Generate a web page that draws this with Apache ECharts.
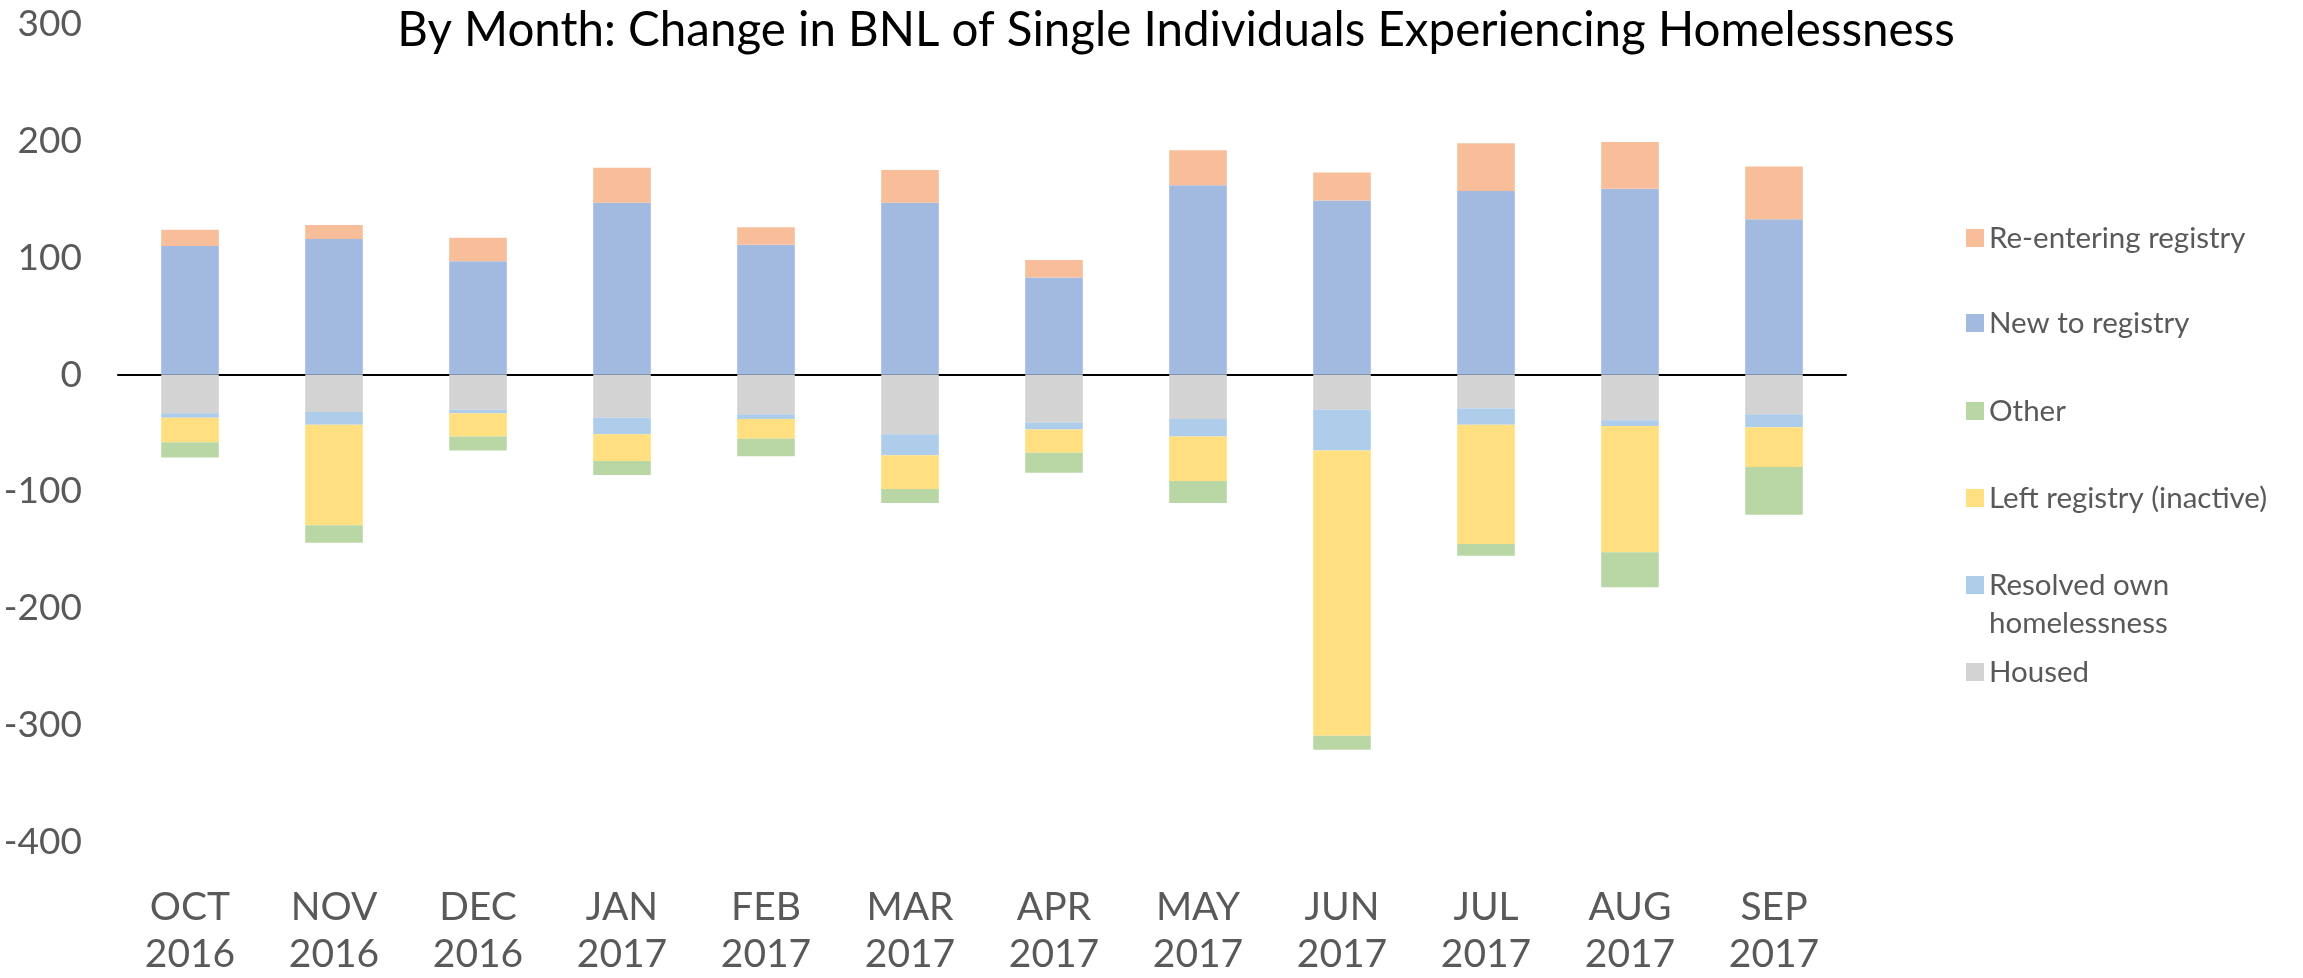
<!DOCTYPE html>
<html>
<head>
<meta charset="utf-8">
<script src="https://cdn.jsdelivr.net/npm/echarts@6/dist/echarts.min.js"></script>
<style>
  html, body { margin: 0; padding: 0; background: #fff; }
  #chart { width: 2303px; height: 978px; }
</style>
</head>
<body>
<div id="chart"></div>
<script>
// months shown on the x axis (two lines: month / year)
const months = ["OCT", "NOV", "DEC", "JAN", "FEB", "MAR", "APR", "MAY", "JUN", "JUL", "AUG", "SEP"];
const years = ["2016", "2016", "2016", "2017", "2017", "2017", "2017", "2017", "2017", "2017", "2017", "2017"];

// inflow (positive)
const newToRegistry = [110, 116, 97, 147, 111, 147, 83, 162, 149, 157, 159, 133];
const reEntering = [14, 12, 20, 30, 15, 28, 15, 30, 24, 41, 40, 45];

// outflow (negative), listed from the zero line downwards
const housed = [-33, -32, -30, -37, -34, -51, -41, -38, -30, -29, -39, -34];
const resolvedOwn = [-4, -11, -3, -14, -4, -18, -6, -15, -35, -14, -5, -11];
const leftInactive = [-21, -86, -20, -23, -17, -29, -20, -38, -244, -102, -108, -34];
const other = [-13, -15, -12, -12, -15, -12, -17, -19, -12, -10, -30, -41];

const yTicks = { min: -400, max: 300, step: 100 };

const FONT = "Lato, 'Open Sans', sans-serif";
const GREY_TEXT = "#595959";

const chart = echarts.init(document.getElementById("chart"));

function bar(name, data, color) {
  return {
    name: name,
    type: "bar",
    stack: "total",
    barWidth: "40%",
    data: data,
    itemStyle: { color: color },
  };
}

// one legend block per entry so the spacing can follow the original
function legendItem(name, top, formatter) {
  const item = {
    data: [name],
    orient: "vertical",
    left: 1966,
    top: top,
    padding: 0,
    icon: "rect",
    itemWidth: 18,
    itemHeight: 18,
    selectedMode: false,
    textStyle: {
      fontFamily: FONT,
      fontSize: 29.5,
      lineHeight: 38,
      color: GREY_TEXT,
    },
  };
  if (formatter) item.formatter = formatter;
  return item;
}

const option = {
  backgroundColor: "#fff",
  animation: false,
  title: {
    text: "By Month: Change in BNL of Single Individuals Experiencing Homelessness",
    left: 1171,
    top: 2,
    textAlign: "center",
    textStyle: {
      fontFamily: FONT,
      fontSize: 47.5,
      fontWeight: "normal",
      color: "#000",
    },
  },
  legend: [
    legendItem("Re-entering registry", 219),
    legendItem("New to registry", 304),
    legendItem("Other", 392),
    legendItem("Left registry (inactive)", 479),
    // blank first line keeps the icon level with "Resolved own"
    legendItem("Resolved own homelessness", 528, () => " \nResolved own\nhomelessness"),
    legendItem("Housed", 653),
  ],
  grid: {
    left: 118,
    right: 457,
    top: 24,
    bottom: 118,
  },
  xAxis: {
    type: "category",
    data: months.map((m, i) => m + "\n" + years[i]),
    axisLine: { lineStyle: { color: "#000", width: 2 } },
    axisTick: { show: false },
    axisLabel: {
      fontFamily: FONT,
      fontSize: 39,
      lineHeight: 47,
      color: GREY_TEXT,
      margin: 42,
    },
  },
  yAxis: {
    type: "value",
    min: yTicks.min,
    max: yTicks.max,
    interval: yTicks.step,
    splitLine: { show: false },
    axisLine: { show: false },
    axisTick: { show: false },
    axisLabel: {
      fontFamily: FONT,
      fontSize: 37,
      color: GREY_TEXT,
      margin: 36,
    },
  },
  series: [
    bar("Housed", housed, "#D3D3D3"),
    bar("Resolved own homelessness", resolvedOwn, "#AECDEA"),
    bar("Left registry (inactive)", leftInactive, "#FFDF80"),
    bar("Other", other, "#B9D7A4"),
    bar("New to registry", newToRegistry, "#A2B9E0"),
    bar("Re-entering registry", reEntering, "#F7BE99"),
  ],
};

chart.setOption(option);
</script>
</body>
</html>
